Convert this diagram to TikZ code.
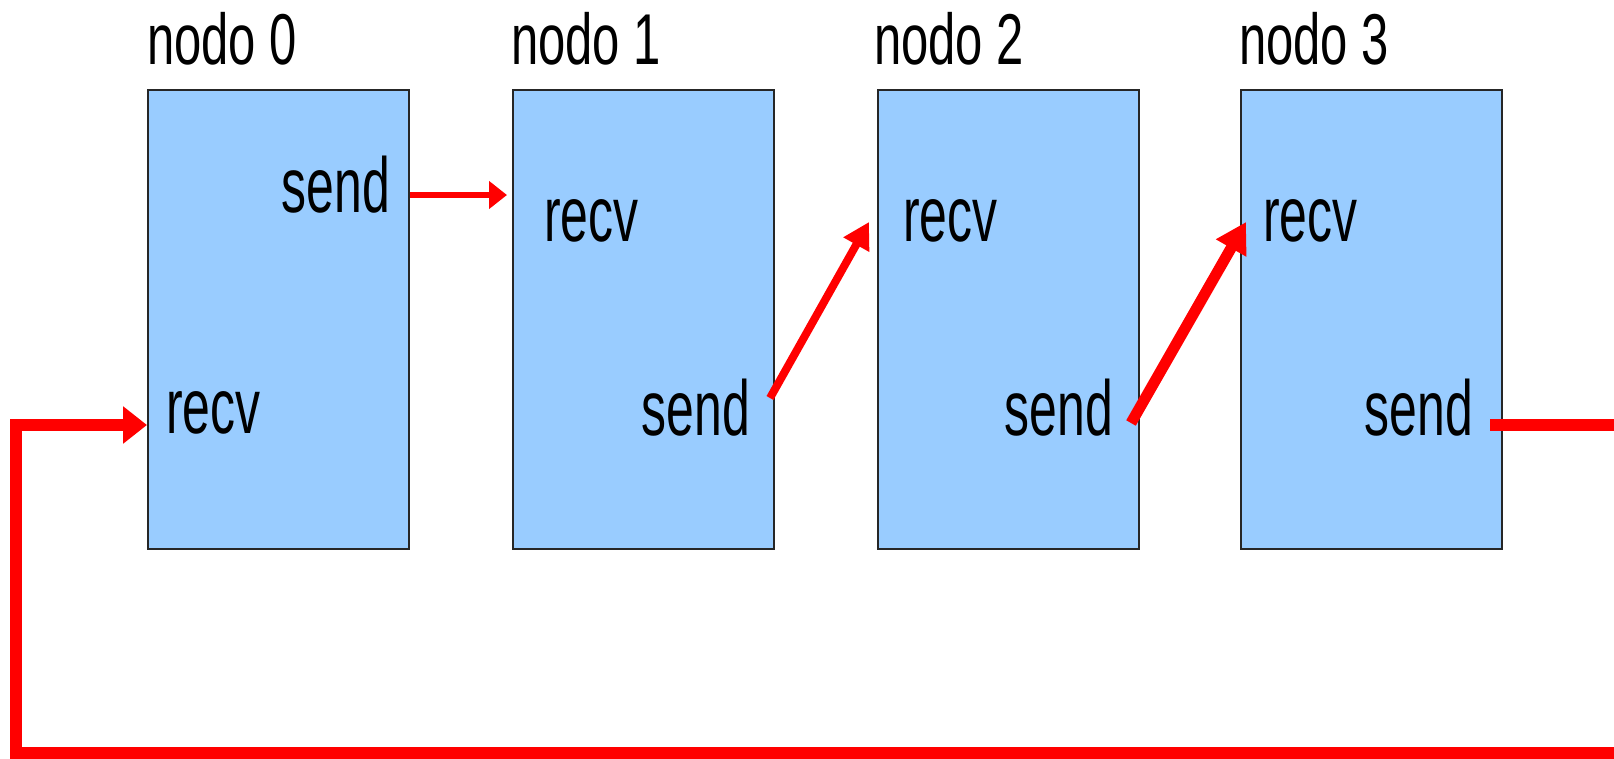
\documentclass[tikz,border=0pt]{standalone}
\usepackage{fontspec}
\usepackage{graphicx}
\setmainfont{Liberation Sans}
\usetikzlibrary{arrows.meta}
\definecolor{boxblue}{HTML}{99CCFF}
\definecolor{ringred}{HTML}{FF0000}
\newcommand{\narrow}[2]{\scalebox{#1}[1]{#2}}
\begin{document}
\begin{tikzpicture}[x=1pt,y=-1pt,
  procbox/.style={draw=black!85, line width=2pt, fill=boxblue,
    minimum width=261pt, minimum height=459pt, inner sep=0pt, anchor=north west},
  title/.style={inner sep=0pt, anchor=base west, font=\fontsize{72}{80}\selectfont},
  optxt/.style={inner sep=0pt, font=\fontsize{78}{86}\selectfont},
  msg/.style={draw=ringred, line width=#1, line cap=butt, line join=miter},
]
\useasboundingbox (0,0) rectangle (1614,758);

% processes in the ring
\node[procbox] (b0) at (146.5,89) {};
\node[procbox] (b1) at (511.5,89) {};
\node[procbox] (b2) at (876.5,89) {};
\node[procbox] (b3) at (1239.5,89) {};

% process names
\node[title] (t0) at (147,64) {\narrow{0.68}{nodo 0}};
\node[title] (t1) at (511,64) {\narrow{0.68}{nodo 1}};
\node[title] (t2) at (874,64) {\narrow{0.68}{nodo 2}};
\node[title] (t3) at (1239,64) {\narrow{0.68}{nodo 3}};

% send / recv operations
\node[optxt, anchor=base east] (s0) at (390,212) {\narrow{0.64}{send}};
\node[optxt, anchor=base west] (r0) at (166,433) {\narrow{0.64}{recv}};
\node[optxt, anchor=base west] (r1) at (544,241) {\narrow{0.64}{recv}};
\node[optxt, anchor=base east] (s1) at (750,435) {\narrow{0.64}{send}};
\node[optxt, anchor=base west] (r2) at (903,241) {\narrow{0.64}{recv}};
\node[optxt, anchor=base east] (s2) at (1113,435) {\narrow{0.64}{send}};
\node[optxt, anchor=base west] (r3) at (1263,241) {\narrow{0.64}{recv}};
\node[optxt, anchor=base east] (s3) at (1473,435) {\narrow{0.64}{send}};

% message end points
\coordinate (o0) at (410,195);
\coordinate (i1) at (507,195);
\coordinate (o1) at (770,398);
\coordinate (i2) at (869,222);
\coordinate (o2) at (1131,423);
\coordinate (i3) at (1246,222);
\coordinate (o3) at (1490,425);
\coordinate (i0) at (147,425);
\coordinate (ra) at (1660,425);
\coordinate (rb) at (1660,752.5);
\coordinate (rc) at (16,752.5);
\coordinate (rd) at (16,425);

% messages
\draw[msg=6.5pt, -{Triangle[length=18pt,width=27pt]}] (o0) -- (i1);
\draw[msg=8pt, -{Triangle[length=26pt,width=28pt]}] (o1) -- (i2);
\draw[msg=11pt, -{Triangle[length=30pt,width=33pt]}] (o2) -- (i3);
\draw[msg=12pt, -{Triangle[length=24pt,width=36pt]}]
  (o3) -- (ra) -- (rb) -- (rc) -- (rd) -- (i0);
\end{tikzpicture}
\end{document}
